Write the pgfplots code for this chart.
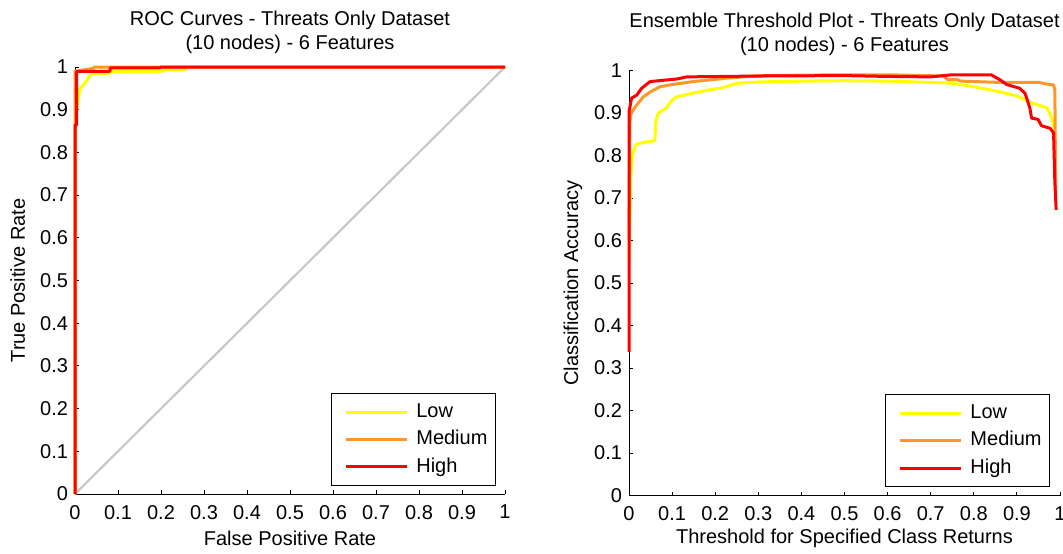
\documentclass[border=0pt]{standalone}
\usepackage{fontspec}
\setmainfont{Liberation Sans}
\usepackage{pgfplots}
\pgfplotsset{compat=1.18}
\definecolor{cLow}{RGB}{255,255,0}
\definecolor{cMed}{RGB}{255,150,40}
\definecolor{cHigh}{RGB}{255,0,0}
\definecolor{cDiag}{RGB}{200,200,200}
\pgfplotsset{
  every axis title shift=0pt,
  mystyle/.style={
    scale only axis,
    xmin=0,xmax=1,ymin=0,ymax=1,
    axis x line*=bottom, axis y line*=left,
    xtick={0,0.1,0.2,0.3,0.4,0.5,0.6,0.7,0.8,0.9,1},
    ytick={0,0.1,0.2,0.3,0.4,0.5,0.6,0.7,0.8,0.9,1},
    tick align=inside, major tick length=2pt,
    tick style={black, line width=0.5pt},
    axis line style={line width=0.5pt, black},
    /pgf/number format/assume math mode=true,
    /pgf/number format/fixed,
    xticklabel style={yshift=-2pt},
    clip=false,
    title style={align=center, anchor=center, yshift=0pt},
    every axis plot/.append style={line width=1.5pt, line join=round},
    legend cell align=left,
    legend image code/.code={\path (0pt,0pt); \draw[##1] (2.5pt,0pt) -- (33pt,0pt);},
    legend style={anchor=south east, draw=black, line width=0.5pt,
      inner xsep=4pt, inner ysep=4.6pt, row sep=4.5pt,
      nodes={inner sep=0pt, text height=7.2pt, text depth=2pt},
      /tikz/every odd column/.append style={column sep=4pt}},
  }
}
\begin{document}
\begin{tikzpicture}[font=\fontsize{10}{12}\selectfont]
\path[use as bounding box] (0pt,0pt) rectangle (531.5pt,276.5pt);
\begin{axis}[mystyle,
  at={(37.5pt,29.5pt)}, anchor=south west, width=215pt, height=213.5pt,
  title={ROC Curves - Threats Only Dataset\\(10 nodes) - 6 Features},
  title style={at={(axis description cs:0.5,1.082)}},
  xlabel={False Positive Rate}, ylabel={True Positive Rate},
  xlabel style={at={(axis description cs:0.5,-0.103)}, anchor=center},
  ylabel style={at={(axis description cs:-0.133,0.5)}, anchor=center},
  legend style={at={(axis description cs:0.979,0.019)}},
]
\addplot[cDiag, line width=1.1pt, forget plot] coordinates {(0,0)(1,1)};
\addplot[cLow] coordinates {(0,0)(0,0.86)(0.004,0.90)(0.008,0.927)(0.012,0.951)(0.018,0.955)(0.023,0.962)(0.03,0.972)(0.035,0.98)(0.043,0.985)(0.08,0.985)(0.081,0.99)(0.2,0.99)(0.21,0.993)(0.256,0.993)(0.258,1)(1,1)};
\addplot[cMed] coordinates {(0,0)(0,0.99)(0.043,0.997)(0.045,1)(1,1)};
\addplot[cHigh] coordinates {(0,0)(0,0.864)(0.004,0.864)(0.004,0.989)(0.01,0.99)(0.081,0.99)(0.082,0.998)(0.198,0.998)(0.2,1)(1,1)};
\legend{Low,Medium,High}
\end{axis}
\begin{axis}[mystyle,
  at={(314.5pt,28.75pt)}, anchor=south west, width=215.5pt, height=212.5pt,
  title={Ensemble Threshold Plot - Threats Only Dataset\\(10 nodes) - 6 Features},
  title style={at={(axis description cs:0.5,1.085)}},
  xlabel={Threshold for Specified Class Returns}, ylabel={Classification Accuracy},
  xlabel style={at={(axis description cs:0.5,-0.1)}, anchor=center},
  ylabel style={at={(axis description cs:-0.13,0.5)}, anchor=center},
  legend style={at={(axis description cs:0.977,0.02)}},
]
\addplot[cLow] coordinates {(0,0.55)(0.002,0.65)(0.004,0.75)(0.008,0.8)(0.015,0.825)(0.03,0.83)(0.06,0.835)(0.062,0.88)(0.068,0.9)(0.085,0.91)(0.1,0.93)(0.11,0.938)(0.14,0.945)(0.19,0.955)(0.22,0.96)(0.25,0.97)(0.3,0.973)(0.4,0.975)(0.5,0.976)(0.6,0.975)(0.7,0.972)(0.75,0.97)(0.8,0.962)(0.86,0.95)(0.9,0.94)(0.937,0.923)(0.97,0.912)(0.981,0.888)(0.988,0.855)(0.99,0.845)};
\addplot[cMed] coordinates {(0,0.6)(0.002,0.88)(0.005,0.9)(0.015,0.915)(0.033,0.938)(0.05,0.95)(0.072,0.962)(0.1,0.967)(0.149,0.974)(0.227,0.982)(0.304,0.988)(0.5,0.99)(0.6,0.99)(0.73,0.987)(0.74,0.978)(0.76,0.979)(0.77,0.975)(0.86,0.972)(0.95,0.972)(0.97,0.968)(0.985,0.966)(0.988,0.955)(0.99,0.7)};
\addplot[cHigh] coordinates {(0,0.338)(0,0.903)(0.006,0.935)(0.018,0.942)(0.029,0.958)(0.049,0.974)(0.111,0.98)(0.134,0.985)(0.3,0.987)(0.5,0.988)(0.6,0.986)(0.7,0.985)(0.75,0.99)(0.84,0.99)(0.861,0.978)(0.876,0.967)(0.907,0.958)(0.919,0.946)(0.93,0.912)(0.934,0.888)(0.949,0.885)(0.957,0.87)(0.977,0.864)(0.985,0.853)(0.988,0.738)(0.991,0.672)};
\legend{Low,Medium,High}
\end{axis}
\end{tikzpicture}
\end{document}
